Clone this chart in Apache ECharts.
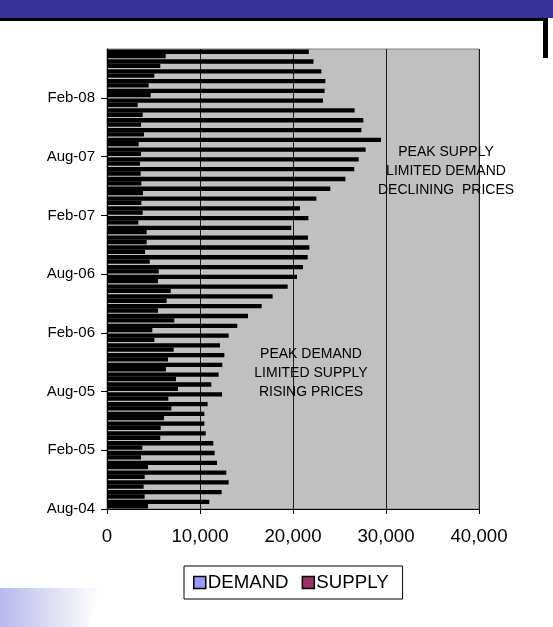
<!DOCTYPE html>
<html>
<head>
<meta charset="utf-8">
<script src="https://cdn.jsdelivr.net/npm/echarts@6/dist/echarts.min.js"></script>
<style>
  html, body { margin: 0; padding: 0; background: #fff; }
  #chart { width: 553px; height: 627px; }
</style>
</head>
<body>
<div id="chart"></div>
<script>
// Month boundaries, Aug-04 .. Jul-08 (labels sit on the start of each month)
const months = [
  'Aug-04','Sep-04','Oct-04','Nov-04','Dec-04','Jan-05','Feb-05','Mar-05','Apr-05','May-05','Jun-05','Jul-05',
  'Aug-05','Sep-05','Oct-05','Nov-05','Dec-05','Jan-06','Feb-06','Mar-06','Apr-06','May-06','Jun-06','Jul-06',
  'Aug-06','Sep-06','Oct-06','Nov-06','Dec-06','Jan-07','Feb-07','Mar-07','Apr-07','May-07','Jun-07','Jul-07',
  'Aug-07','Sep-07','Oct-07','Nov-07','Dec-07','Jan-08','Feb-08','Mar-08','Apr-08','May-08','Jun-08','Jul-08'
];
// One bar group per month, Aug-04 .. Jun-08
const barMonths = months.slice(0, 47);

const demand = [
  4410, 4050, 3940, 4050, 4410, 3660, 3800, 5730, 5770, 6130, 6920, 6600,
  7630, 7420, 6340, 6560, 7170, 5090, 4870, 7240, 5480, 6420, 6850, 5480,
  5560, 4590, 4090, 4270, 4270, 3370, 3840, 3690, 3870, 3690, 3620, 3550,
  3660, 3410, 3980, 3660, 3840, 3300, 4700, 4480, 5090, 5730, 6310
];
const supply = [
  11000, 12330, 13080, 12830, 11830, 11580, 11430, 10610, 10470, 10470, 10820, 12370,
  11220, 12010, 12400, 12620, 12150, 13080, 14010, 15160, 16630, 17810, 19430, 20430,
  21070, 21580, 21760, 21610, 19820, 21650, 20750, 22510, 24010, 25630, 26590, 27060,
  27810, 29460, 27350, 27560, 26630, 23220, 23400, 23480, 23050, 22200, 21700
];
const xTicks = { min: 0, max: 40000, step: 10000 };

const FONT = 'Liberation Sans, Arial, sans-serif';
const chart = echarts.init(document.getElementById('chart'));

const barStyle = (fill) => ({ color: fill, borderColor: '#000', borderWidth: 2.3 });

chart.setOption({
  animation: false,
  backgroundColor: '#ffffff',
  textStyle: { fontFamily: FONT },
  grid: {
    left: 107, right: 74, top: 49, bottom: 118,
    show: true, backgroundColor: '#C0C0C0', borderColor: '#808080', borderWidth: 1
  },
  legend: {
    data: ['DEMAND', 'SUPPLY'],
    left: 184, top: 566,
    orient: 'horizontal',
    icon: 'rect', itemWidth: 12, itemHeight: 12, itemGap: 13,
    itemStyle: { borderColor: '#000', borderWidth: 1.5 },
    borderColor: '#000', borderWidth: 1, padding: [7, 14, 7, 9],
    backgroundColor: '#fff',
    textStyle: { fontFamily: FONT, fontSize: 18.67, color: '#000', padding: [0, 0, 0, -3] }
  },
  xAxis: {
    type: 'value', min: xTicks.min, max: xTicks.max, interval: xTicks.step,
    axisLine: { show: true, lineStyle: { color: '#000', width: 1 } },
    axisTick: { show: true, length: 5, lineStyle: { color: '#000' } },
    axisLabel: {
      margin: 18, fontSize: 18.67, color: '#000', fontFamily: FONT,
      formatter: v => v.toLocaleString('en-US')
    },
    splitLine: { show: true, lineStyle: { color: '#1a1a1a', width: 1 } }
  },
  yAxis: [
    {
      type: 'category', data: barMonths, boundaryGap: true,
      axisLine: { show: true, onZero: false, lineStyle: { color: '#000', width: 1 } },
      axisTick: { show: false },
      axisLabel: { show: false },
      splitLine: { show: false }
    },
    {
      type: 'category', data: months, boundaryGap: false, position: 'left',
      axisLine: { show: false },
      axisTick: { show: true, interval: 5, length: 6, lineStyle: { color: '#000' } },
      axisLabel: { show: true, interval: 5, margin: 12, fontSize: 15, color: '#000', fontFamily: FONT },
      splitLine: { show: false }
    }
  ],
  // SUPPLY is listed first so that it sits above DEMAND inside each month
  series: [
    {
      name: 'SUPPLY', type: 'bar', data: supply, yAxisIndex: 0,
      barGap: '0%', barCategoryGap: '12%',
      itemStyle: barStyle('#993366')
    },
    {
      name: 'DEMAND', type: 'bar', data: demand, yAxisIndex: 0,
      barGap: '0%', barCategoryGap: '12%',
      itemStyle: barStyle('#9999FF')
    }
  ],
  graphic: [
    // title band across the top with its drop shadow
    { type: 'rect', shape: { x: 0, y: 0, width: 553, height: 18 }, style: { fill: '#333399' }, z: 100 },
    { type: 'rect', shape: { x: 0, y: 18, width: 548, height: 3 }, style: { fill: '#000' }, z: 99 },
    { type: 'rect', shape: { x: 543, y: 18, width: 5, height: 40 }, style: { fill: '#000' }, z: 99 },
    // faded swoosh in the lower left corner
    {
      type: 'polygon', z: 1,
      shape: { points: [[0, 588], [100, 588], [88, 627], [0, 627]] },
      style: {
        fill: new echarts.graphic.LinearGradient(0, 0, 1, 0, [
          { offset: 0, color: '#b8b8ee' },
          { offset: 0.6, color: '#e4e4f6' },
          { offset: 1, color: '#ffffff' }
        ])
      }
    },
    {
      type: 'text', x: 446, y: 143, z: 50,
      style: {
        text: 'PEAK SUPPLY\nLIMITED DEMAND\nDECLINING  PRICES',
        textAlign: 'center', align: 'center', lineHeight: 19,
        font: '14px ' + FONT, fill: '#000'
      }
    },
    {
      type: 'text', x: 311, y: 345, z: 50,
      style: {
        text: 'PEAK DEMAND\nLIMITED SUPPLY\nRISING PRICES',
        textAlign: 'center', align: 'center', lineHeight: 19,
        font: '14px ' + FONT, fill: '#000'
      }
    }
  ]
});
</script>
</body>
</html>
